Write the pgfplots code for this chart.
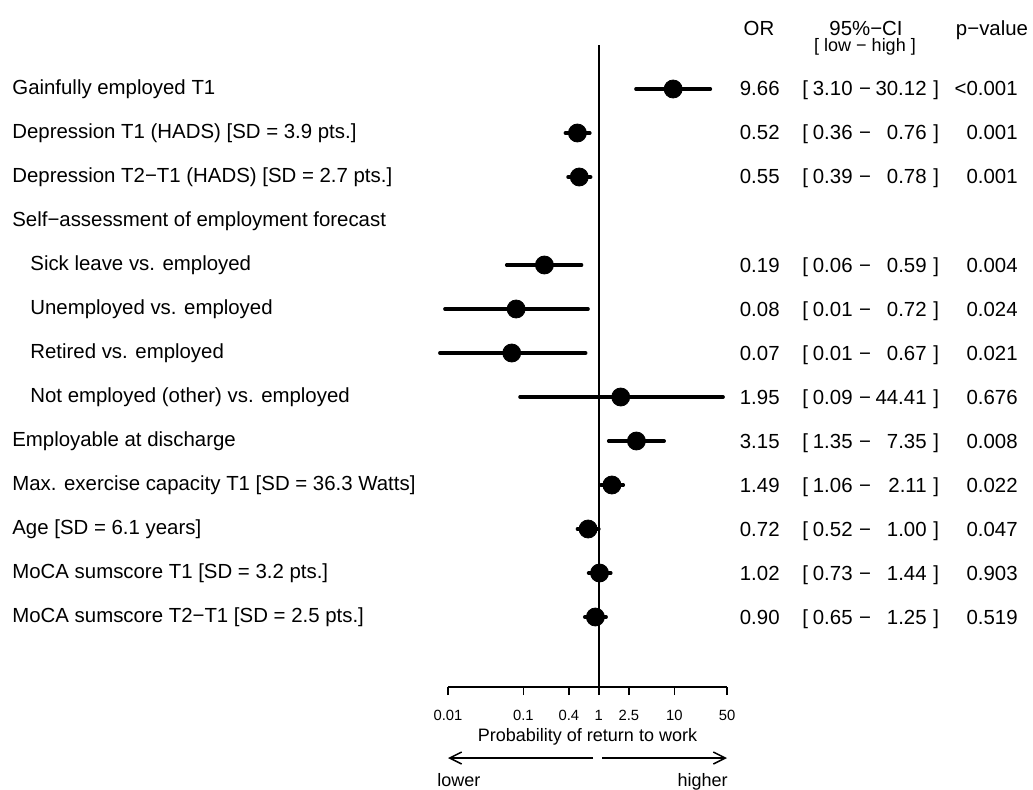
\documentclass[border=0pt]{standalone}
\usepackage{fontspec}
\setmainfont{Liberation Sans}
\usepackage{pgfplots}
\pgfplotsset{compat=1.18}
\usetikzlibrary{arrows.meta}

\newcommand\fmain{\fontsize{10.2}{12}\selectfont}
\newcommand\fsmall{\fontsize{9}{11}\selectfont}
\newcommand\ftick{\fontsize{7.4}{8}\selectfont}

% one row of the table on the right: baseline, OR, low, high, p
\newcommand\row[5]{%
  \node[anchor=base east, inner sep=0pt] at (780,#1) {#2};
  \node[anchor=base west, inner sep=0pt] at (802,#1) {[};
  \node[anchor=base east, inner sep=0pt] at (853,#1) {#3};
  \node[anchor=base, inner sep=0pt] at (865,#1) {−};
  \node[anchor=base east, inner sep=0pt] at (927,#1) {#4};
  \node[anchor=base west, inner sep=0pt] at (933,#1) {]};
  \node[anchor=base east, inner sep=0pt] at (1018,#1) {#5};}

\begin{document}
\begin{tikzpicture}[font=\fmain]
\path[use as bounding box] (0,0) rectangle (516.5pt,394.5pt);
\begin{axis}[
  at={(224pt,51pt)}, anchor=south west,
  scale only axis, width=139.5pt, height=321pt,
  xmode=log, xmin=0.01, xmax=50,
  ymin=-14.591, ymax=0,
  clip=false,
  axis x line*=bottom, axis y line*=left,
  y axis line style={draw=none},
  x axis line style={line width=0.75pt},
  xtick={0.01,0.1,0.4,1,2.5,10,50},
  xticklabels={0.01,0.1,0.4,1,2.5,10,50},
  xminorticks=false,
  xtick align=outside, major tick length=4pt,
  xtick style={line width=0.75pt, black},
  xticklabel style={font=\ftick, yshift=-4pt},
  ytick={-1,-2,...,-13},
  yticklabels={
    {Gainfully employed T1},
    {Depression T1 (HADS) [SD = 3.9 pts.]},
    {Depression T2−T1 (HADS) [SD = 2.7 pts.]},
    {Self−assessment of employment forecast},
    {\hbox{}\hspace{9pt}Sick leave vs. employed},
    {\hbox{}\hspace{9pt}Unemployed vs. employed},
    {\hbox{}\hspace{9pt}Retired vs. employed},
    {\hbox{}\hspace{9pt}Not employed (other) vs. employed},
    {Employable at discharge},
    {Max. exercise capacity T1 [SD = 36.3 Watts]},
    {Age [SD = 6.1 years]},
    {MoCA sumscore T1 [SD = 3.2 pts.]},
    {MoCA sumscore T2−T1 [SD = 2.5 pts.]}},
  ytick style={draw=none},
  yticklabel style={anchor=west, inner sep=0pt, xshift=-218pt, font=\fmain},
  xlabel={Probability of return to work},
  xlabel style={font=\fsmall, at={(axis description cs:0.5,0)}, anchor=base, yshift=-27pt},
]
% reference line at OR = 1
\addplot[black, line width=0.75pt] coordinates {(1,0) (1,-14.591)};
% confidence intervals
\addplot[black, line width=1.75pt, line cap=round] coordinates {(3.10,-1) (30.12,-1)};
\addplot[black, line width=1.75pt, line cap=round] coordinates {(0.36,-2) (0.76,-2)};
\addplot[black, line width=1.75pt, line cap=round] coordinates {(0.39,-3) (0.78,-3)};
\addplot[black, line width=1.75pt, line cap=round] coordinates {(0.06,-5) (0.59,-5)};
\addplot[black, line width=1.75pt, line cap=round] coordinates {(0.0091,-6) (0.72,-6)};
\addplot[black, line width=1.75pt, line cap=round] coordinates {(0.0078,-7) (0.67,-7)};
\addplot[black, line width=1.75pt, line cap=round] coordinates {(0.09,-8) (44.41,-8)};
\addplot[black, line width=1.75pt, line cap=round] coordinates {(1.35,-9) (7.35,-9)};
\addplot[black, line width=1.75pt, line cap=round] coordinates {(1.06,-10) (2.11,-10)};
\addplot[black, line width=1.75pt, line cap=round] coordinates {(0.52,-11) (1.00,-11)};
\addplot[black, line width=1.75pt, line cap=round] coordinates {(0.73,-12) (1.44,-12)};
\addplot[black, line width=1.75pt, line cap=round] coordinates {(0.65,-13) (1.25,-13)};
% odds ratios
\addplot[only marks, mark=*, mark size=4.5pt, black] coordinates {
  (9.66,-1) (0.52,-2) (0.55,-3) (0.19,-5) (0.08,-6) (0.07,-7)
  (1.95,-8) (3.15,-9) (1.49,-10) (0.72,-11) (1.02,-12) (0.90,-13)};
\end{axis}

\begin{scope}[shift={(0pt,394.5pt)}, x=0.5pt, y=-0.5pt]
\node[anchor=base, inner sep=0pt] at (759,36) {OR};
\node[anchor=base, inner sep=0pt] at (866,36) {95\%−CI};
\node[anchor=base, inner sep=0pt, font=\fsmall] at (865,52) {[ low − high ]};
\node[anchor=base, inner sep=0pt] at (992,36) {p−value};
\row{96}{9.66}{3.10}{30.12}{<0.001}
\row{140}{0.52}{0.36}{0.76}{0.001}
\row{184}{0.55}{0.39}{0.78}{0.001}
\row{272}{0.19}{0.06}{0.59}{0.004}
\row{316}{0.08}{0.01}{0.72}{0.024}
\row{360}{0.07}{0.01}{0.67}{0.021}
\row{404}{1.95}{0.09}{44.41}{0.676}
\row{448}{3.15}{1.35}{7.35}{0.008}
\row{492}{1.49}{1.06}{2.11}{0.022}
\row{536}{0.72}{0.52}{1.00}{0.047}
\row{580}{1.02}{0.73}{1.44}{0.903}
\row{624}{0.90}{0.65}{1.25}{0.519}
\draw[line width=0.75pt, -{Straight Barb[length=6pt, width=6pt]}] (593,758) -- (448,758);
\draw[line width=0.75pt, -{Straight Barb[length=6pt, width=6pt]}] (602,758) -- (727,758);
\node[anchor=base west, inner sep=0pt, font=\fsmall] at (437,786) {lower};
\node[anchor=base east, inner sep=0pt, font=\fsmall] at (728,786) {higher};
\end{scope}
\end{tikzpicture}
\end{document}
